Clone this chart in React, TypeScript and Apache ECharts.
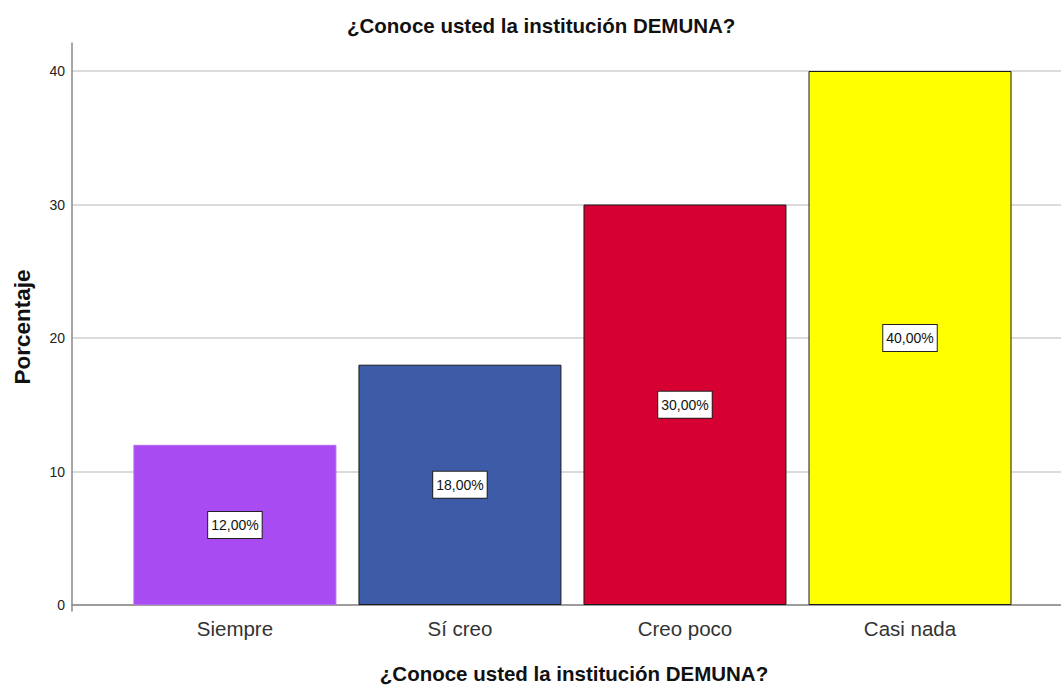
import React, { useEffect, useRef } from "react";
import * as echarts from "echarts";

const categories = ["Siempre", "Sí creo", "Creo poco", "Casi nada"];
const values = [12, 18, 30, 40];
const labels = ["12,00%", "18,00%", "30,00%", "40,00%"];
const colors = ["#A94BF2", "#3E5BA8", "#D70032", "#FFFF00"];
const yTicks = [0, 10, 20, 30, 40];

const FONT = "'Liberation Sans', Arial, sans-serif";

export default function App() {
  const ref = useRef<HTMLDivElement>(null);
  useEffect(() => {
    document.body.style.margin = "0";
    const chart = echarts.init(ref.current!, null, { renderer: "svg" });
    chart.setOption({
      animation: false,
      backgroundColor: "#ffffff",
      textStyle: { fontFamily: FONT },
      title: {
        text: "¿Conoce usted la institución DEMUNA?",
        left: 342,
        top: 10,
        textStyle: { fontSize: 20.5, fontWeight: "bold", color: "#111", fontFamily: FONT },
      },
      grid: [
        { left: 72, right: 0, top: 43, bottom: 78 },
        { left: 72, right: 0, top: 71, bottom: 78 },
      ],
      xAxis: [
        { gridIndex: 0, type: "value", show: false, min: 0, max: 1 },
        {
          gridIndex: 1,
          type: "value",
          min: -0.724,
          max: 3.671,
          axisLine: { show: true, lineStyle: { color: "#888", width: 1.5 } },
          axisTick: { show: false },
          splitLine: { show: false },
          axisLabel: {
            customValues: [0, 1, 2, 3],
            formatter: (v: number) => categories[Math.round(v)] ?? "",
            fontSize: 20.5,
            color: "#333",
            margin: 13,
            fontFamily: FONT,
          },
          name: "¿Conoce usted la institución DEMUNA?",
          nameLocation: "middle",
          nameGap: 58,
          nameTextStyle: { fontSize: 20.5, fontWeight: "bold", color: "#111", fontFamily: FONT, padding: [0, 0, 0, 15] },
        },
      ],
      yAxis: [
        {
          gridIndex: 0,
          type: "value",
          min: 0,
          max: 1,
          axisLine: { show: true, lineStyle: { color: "#888", width: 1.5 } },
          axisTick: { show: false },
          axisLabel: { show: false },
          splitLine: { show: false },
          name: "Porcentaje",
          nameLocation: "middle",
          nameGap: 38,
          nameTextStyle: { fontSize: 22.5, fontWeight: "bold", color: "#111", fontFamily: FONT },
        },
        {
          gridIndex: 1,
          type: "value",
          min: yTicks[0],
          max: yTicks[yTicks.length - 1],
          interval: 10,
          axisLine: { show: false },
          axisTick: { show: false },
          splitLine: { show: true, lineStyle: { color: "#cfcfcf", width: 1.5 } },
          axisLabel: { fontSize: 14, color: "#222", margin: 7, fontFamily: FONT },
        },
      ],
      series: [
        {
          type: "bar",
          xAxisIndex: 1,
          yAxisIndex: 1,
          barWidth: 203,
          data: values.map((v, i) => ({
            value: [i, v],
            itemStyle: {
              color: colors[i],
              borderColor: i === 0 ? "#B56CF2" : "#1a1a1a",
              borderWidth: 1,
            },
          })),
          label: {
            show: true,
            position: "inside",
            formatter: (p: any) => labels[p.dataIndex],
            backgroundColor: "#ffffff",
            borderColor: "#222",
            borderWidth: 1,
            padding: [7, 3, 5, 3],
            fontSize: 14,
            color: "#111",
            fontFamily: FONT,
          },
        },
      ],
    });
    return () => chart.dispose();
  }, []);
  return <div ref={ref} style={{ width: 1061, height: 689 }} />;
}
